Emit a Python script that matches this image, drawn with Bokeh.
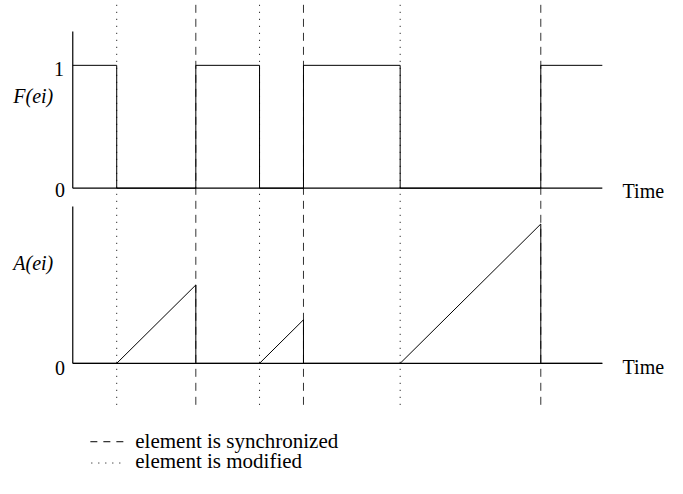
from bokeh.plotting import figure
from bokeh.models import Range1d
from bokeh.core.properties import value
from bokeh.embed import file_html
from bokeh.resources import INLINE

# ---- data ----
mod_times = [1.0, 4.25, 7.45]      # element is modified (F drops to 0, A starts growing)
sync_times = [2.8, 5.25, 10.65]    # element is synchronized (F back to 1, A reset)
t_end = 12.05
f_levels = [0, 1]
f_tick_labels = ["0", "1"]
a_levels = [0]
a_tick_labels = ["0"]
axis_label_f = "F(ei)"
axis_label_a = "A(ei)"
time_label = "Time"
legend_labels = ["element is synchronized", "element is modified"]

# ---- derived series ----
fx, fy = [0.0], [1]
for m, s in zip(mod_times, sync_times):
    fx += [m, m, s, s]
    fy += [1, 0, 0, 1]
fx.append(t_end); fy.append(1)

ax, ay = [0.0], [0.0]
for m, s in zip(mod_times, sync_times):
    ax += [m, s, s]
    ay += [0.0, s - m, 0.0]
ax.append(t_end); ay.append(0.0)

# ---- layout (reference pixels, scaled into the canvas) ----
W, H = 667, 478
SX, SY = W / 683.0, H / 494.0
X0 = 74 * SX            # canvas x of t = 0
PX_T = 45 * SX          # px per time unit
YF0 = 194 * SY          # canvas y of F = 0
PX_F = 127 * SY
YA0 = 375 * SY          # canvas y of A = 0
PX_A = 45 * SY

def t_(rx):   # reference x -> time units
    return (rx * SX - X0) / PX_T

def f_(ry):   # reference y -> F units
    return (YF0 - ry * SY) / PX_F

def a_(ry):   # reference y -> A units
    return (YA0 - ry * SY) / PX_A

p = figure(width=W, height=H, output_backend="svg", toolbar_location=None,
           min_border=0, outline_line_color=None,
           x_range=Range1d(-X0 / PX_T, (W - X0) / PX_T),
           y_range=Range1d((YF0 - H) / PX_F, YF0 / PX_F))
p.extra_y_ranges = {"a": Range1d((YA0 - H) / PX_A, YA0 / PX_A)}
p.axis.visible = False
p.grid.visible = False
p.background_fill_color = "white"
p.border_fill_color = "white"

FONT = value("Liberation Serif")
FS = "20px"

# guide lines
top_f, bot_f = f_(-10), f_(418)
n = len(sync_times)
p.segment(x0=sync_times, x1=sync_times, y0=[top_f] * n, y1=[bot_f] * n,
          line_color="#333333", line_width=1, line_dash="8 6")
p.segment(x0=mod_times, x1=mod_times, y0=[top_f] * n, y1=[bot_f] * n,
          line_color="black", line_width=1, line_dash="1 6")

# axes (top panel)
p.line([0, 0], [0, f_(32)], line_color="black", line_width=1.2)
p.line([0, t_end], [0, 0], line_color="black", line_width=1.2)
# axes (bottom panel)
p.line([0, 0], [0, a_(213)], line_color="black", line_width=1.2, y_range_name="a")
p.line([0, t_end], [0, 0], line_color="black", line_width=1.2, y_range_name="a")

# series
p.line(fx, fy, line_color="black", line_width=1)
p.line(ax, ay, line_color="black", line_width=1, y_range_name="a")

# tick labels (right aligned left of the axis)
p.text(x=[t_(66), t_(65)], y=[f_(196), f_(71)], text=f_tick_labels, text_font=FONT,
       text_font_size=FS, text_align="right", text_baseline="middle", text_color="black")
p.text(x=[t_(66)], y=[a_(380)], text=a_tick_labels, text_font=FONT,
       text_font_size=FS, text_align="right", text_baseline="middle", text_color="black",
       y_range_name="a")

# axis labels
p.text(x=[t_(54)], y=[f_(99)], text=[axis_label_f], text_font=FONT, text_font_style="italic",
       text_font_size=FS, text_align="right", text_baseline="middle", text_color="black")
p.text(x=[t_(54)], y=[a_(271)], text=[axis_label_a], text_font=FONT, text_font_style="italic",
       text_font_size=FS, text_align="right", text_baseline="middle", text_color="black",
       y_range_name="a")

# Time labels
p.text(x=[t_(637)], y=[f_(197)], text=[time_label], text_font=FONT, text_font_size=FS,
       text_align="left", text_baseline="middle", text_color="black")
p.text(x=[t_(637)], y=[a_(379)], text=[time_label], text_font=FONT, text_font_size=FS,
       text_align="left", text_baseline="middle", text_color="black", y_range_name="a")

# legend
p.line([t_(92), t_(128)], [f_(456), f_(456)], line_color="black", line_width=1, line_dash="7 6")
p.line([t_(93), t_(128)], [f_(478), f_(478)], line_color="black", line_width=1, line_dash="1 6")
p.text(x=[t_(138), t_(138)], y=[f_(455), f_(476)], text=legend_labels, text_font=FONT,
       text_font_size="21px", text_align="left", text_baseline="middle", text_color="black")

open("out.html", "w").write(file_html(p, INLINE))
